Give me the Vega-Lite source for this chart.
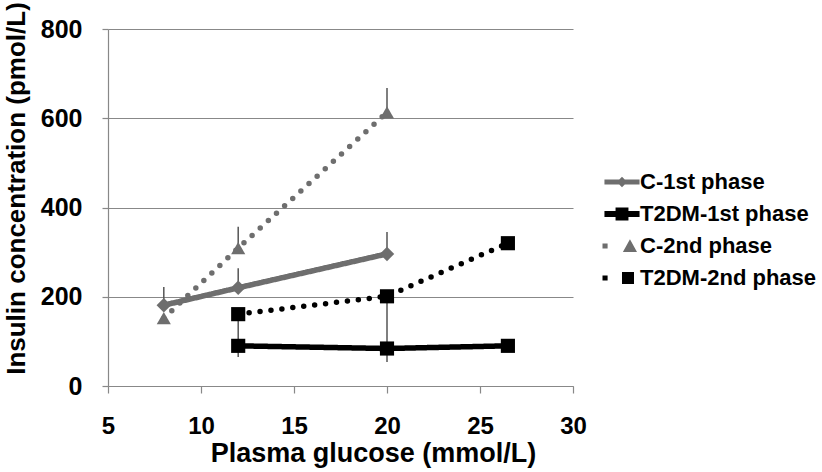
{
  "$schema": "https://vega.github.io/schema/vega-lite/v6.json",
  "width": 465,
  "height": 357,
  "autosize": {"type": "none"},
  "padding": {"left": 108, "top": 29, "right": 249, "bottom": 86},
  "background": "white",
  "config": {"view": {"stroke": null}, "font": "Liberation Sans"},
  "datasets": {
    "pts": [
      {"series": "C-1st phase", "x": 8, "y": 181},
      {"series": "C-1st phase", "x": 12, "y": 220},
      {"series": "C-1st phase", "x": 20, "y": 296},
      {"series": "T2DM-1st phase", "x": 12, "y": 90},
      {"series": "T2DM-1st phase", "x": 20, "y": 84},
      {"series": "T2DM-1st phase", "x": 26.5, "y": 90},
      {"series": "C-2nd phase", "x": 8, "y": 152},
      {"series": "C-2nd phase", "x": 12, "y": 309},
      {"series": "C-2nd phase", "x": 20, "y": 613},
      {"series": "T2DM-2nd phase", "x": 12, "y": 161},
      {"series": "T2DM-2nd phase", "x": 20, "y": 201},
      {"series": "T2DM-2nd phase", "x": 26.5, "y": 320}
    ],
    "err": [
      {"series": "C-1st phase", "x": 8, "lo": 181, "hi": 222},
      {"series": "C-1st phase", "x": 12, "lo": 220, "hi": 264},
      {"series": "C-1st phase", "x": 20, "lo": 296, "hi": 345},
      {"series": "C-2nd phase", "x": 12, "lo": 309, "hi": 357},
      {"series": "C-2nd phase", "x": 20, "lo": 613, "hi": 668},
      {"series": "T2DM-2nd phase", "x": 12, "lo": 90, "hi": 161},
      {"series": "T2DM-2nd phase", "x": 20, "lo": 84, "hi": 201},
      {"series": "T2DM-1st phase", "x": 12, "lo": 65, "hi": 90},
      {"series": "T2DM-1st phase", "x": 20, "lo": 54, "hi": 84}
    ]
  },
  "layer": [
    {
      "data": {"name": "err"},
      "mark": {"type": "rule", "color": "#555555", "strokeWidth": 1.5},
      "encoding": {
        "x": {
          "field": "x", "type": "quantitative",
          "scale": {"domain": [5, 30], "nice": false, "zero": false},
          "axis": {
            "title": "Plasma glucose (mmol/L)",
            "values": [5, 10, 15, 20, 25, 30],
            "grid": false,
            "domainColor": "#888888", "domainWidth": 1.2,
            "tickColor": "#888888", "tickWidth": 1.2, "tickSize": 7,
            "labelFont": "Liberation Sans", "labelFontSize": 24, "labelFontWeight": "bold", "labelColor": "#000000",
            "labelPadding": 21, "labelFlush": false, "labelOverlap": false,
            "titleFont": "Liberation Sans", "titleFontSize": 27, "titleFontWeight": "bold", "titleColor": "#000000",
            "titleX": 265, "titleY": 67, "titleBaseline": "middle", "titleAnchor": "middle"
          }
        },
        "y": {
          "field": "lo", "type": "quantitative",
          "scale": {"domain": [0, 800], "nice": false},
          "axis": {
            "title": "Insulin concentration (pmol/L)",
            "values": [0, 200, 400, 600, 800],
            "grid": true, "gridColor": "#888888", "gridWidth": 1.2,
            "domainColor": "#888888", "domainWidth": 1.2,
            "tickColor": "#888888", "tickWidth": 1.2, "tickSize": 6,
            "labelFont": "Liberation Sans", "labelFontSize": 25, "labelFontWeight": "bold", "labelColor": "#000000",
            "labelPadding": 20,
            "titleFont": "Liberation Sans", "titleFontSize": 26, "titleFontWeight": "bold", "titleColor": "#000000",
            "titleX": -92, "titleY": 159, "titleBaseline": "middle", "titleAnchor": "middle", "titleAngle": -90
          }
        },
        "y2": {"field": "hi"}
      }
    },
    {
      "data": {"name": "pts"},
      "mark": {"type": "line", "strokeWidth": 5.5, "strokeCap": "round"},
      "encoding": {
        "x": {"field": "x", "type": "quantitative"},
        "y": {"field": "y", "type": "quantitative"},
        "color": {
          "field": "series", "type": "nominal",
          "scale": {"domain": ["C-1st phase", "T2DM-1st phase", "C-2nd phase", "T2DM-2nd phase"], "range": ["#6e6e6e", "#000000", "#6e6e6e", "#000000"]},
          "legend": {
            "title": null, "orient": "none", "legendX": 499, "legendY": 138,
            "padding": 0, "symbolSize": 900, "rowPadding": 6, "labelOffset": 3,
            "labelFont": "Liberation Sans", "labelFontSize": 22, "labelFontWeight": "bold", "labelColor": "#000000",
            "labelLimit": 300,
            "encode": {
              "symbols": {
                "update": {
                  "shape": {"signal": "datum.value == 'C-1st phase' ? 'M-1.17,-0.17H1.17V0.17H-1.17Z M0,-0.35L0.35,0L0,0.35L-0.35,0Z' : datum.value == 'T2DM-1st phase' ? 'M-1.17,-0.2H1.17V0.2H-1.17Z M-0.43,-0.43H0.43V0.43H-0.43Z' : datum.value == 'C-2nd phase' ? 'M-1.3,-0.17h0.34v0.34h-0.34Z M0.53,-0.45L1.0,0.4H0.06Z' : 'M-1.3,-0.17h0.34v0.34h-0.34Z M0.0,-0.4H0.8V0.4H0.0Z'"},
                  "fill": {"signal": "indexof(datum.value, 'T2DM') >= 0 ? '#000000' : '#6e6e6e'"},
                  "fillOpacity": {"value": 1},
                  "opacity": {"value": 1},
                  "stroke": {"value": "transparent"},
                  "strokeWidth": {"value": 0},
                  "strokeDash": {"value": []}
                }
              }
            }
          }
        },
        "strokeDash": {
          "field": "series", "type": "nominal",
          "scale": {"domain": ["C-1st phase", "T2DM-1st phase", "C-2nd phase", "T2DM-2nd phase"], "range": [[1, 0], [1, 0], [0, 11], [0, 11]]},
          "legend": null
        }
      }
    },
    {
      "data": {"name": "pts"},
      "transform": [{"filter": "datum.series == 'C-1st phase'"}],
      "mark": {"type": "point", "shape": "diamond", "filled": true, "opacity": 1, "size": 210, "color": "#6e6e6e"},
      "encoding": {
        "x": {"field": "x", "type": "quantitative"},
        "y": {"field": "y", "type": "quantitative"}
      }
    },
    {
      "data": {"name": "pts"},
      "transform": [{"filter": "datum.series == 'C-2nd phase'"}],
      "mark": {"type": "point", "shape": "triangle-up", "filled": true, "opacity": 1, "size": 200, "color": "#6e6e6e"},
      "encoding": {
        "x": {"field": "x", "type": "quantitative"},
        "y": {"field": "y", "type": "quantitative"}
      }
    },
    {
      "data": {"name": "pts"},
      "transform": [{"filter": "indexof(datum.series, 'T2DM') >= 0"}],
      "mark": {"type": "point", "shape": "square", "filled": true, "opacity": 1, "size": 200, "color": "#000000"},
      "encoding": {
        "x": {"field": "x", "type": "quantitative"},
        "y": {"field": "y", "type": "quantitative"}
      }
    }
  ]
}
